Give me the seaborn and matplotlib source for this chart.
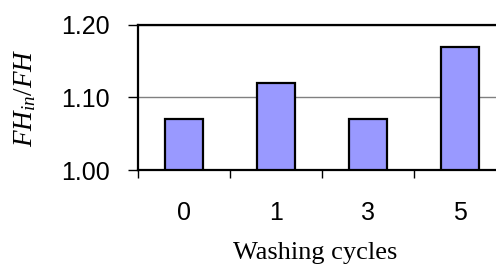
import matplotlib
matplotlib.use("Agg")
import matplotlib.pyplot as plt
import seaborn as sns
import pandas as pd
from matplotlib.ticker import FixedLocator

categories = ["0", "1", "3", "5"]
values = [1.07, 1.12, 1.07, 1.17]
yticks = [1.00, 1.10, 1.20]
ytick_labels = ["1.00", "1.10", "1.20"]

df = pd.DataFrame({"cycles": categories, "ratio": values})

sns.set_style("white")
plt.rcParams["mathtext.fontset"] = "custom"
plt.rcParams["mathtext.it"] = "Liberation Serif:italic"
plt.rcParams["mathtext.rm"] = "Liberation Serif"
plt.rcParams["text.color"] = "black"
plt.rcParams["axes.labelcolor"] = "black"
plt.rcParams["xtick.color"] = "black"
plt.rcParams["ytick.color"] = "black"

fig = plt.figure(figsize=(4.96, 2.64), dpi=100)
W, H = 496, 264
ax_l, ax_r, ax_t, ax_b = 138, 506, 25, 170
ax = fig.add_axes([ax_l / W, 1 - ax_b / H, (ax_r - ax_l) / W, (ax_b - ax_t) / H])

sns.barplot(data=df, x="cycles", y="ratio", order=categories, color="#9999FF",
            saturation=1, width=0.41, edgecolor="black", linewidth=1.6, ax=ax)

ax.set_ylim(1.0, 1.2)
ax.set_xlim(-0.5, len(categories) - 0.5)
ax.set_yticks(yticks)
ax.set_yticklabels(ytick_labels)
ax.yaxis.grid(True, color="#808080", linewidth=1.0)
ax.set_axisbelow(True)

for s in ax.spines.values():
    s.set_color("black")
    s.set_linewidth(1.6)
    s.set_visible(True)

ax.xaxis.set_minor_locator(FixedLocator([i - 0.5 for i in range(len(categories) + 1)]))
ax.tick_params(axis="x", which="major", length=0, pad=22, labelsize=18, labelfontfamily="Liberation Sans",
               labelcolor="black")
ax.tick_params(axis="x", which="minor", length=6, width=1.0, color="black", direction="out", bottom=True)
ax.tick_params(axis="y", which="major", length=7, width=1.0, color="black", direction="out", left=True,
               pad=13, labelsize=18, labelfontfamily="Liberation Sans", labelcolor="black")

ax.set_xlabel("Washing cycles", family="Liberation Serif", fontsize=19, color="black")
ax.xaxis.set_label_coords((315 - ax_l) / (ax_r - ax_l), -(242 - ax_b) / (ax_b - ax_t))
ax.xaxis.label.set_va("top")
ax.set_ylabel(r"$FH_{in}/FH$", fontsize=19.5, color="black")
ax.yaxis.set_label_coords((25 - ax_l) / (ax_r - ax_l), 1 - (98 - ax_t) / (ax_b - ax_t))
ax.yaxis.label.set_va("center")
ax.yaxis.label.set_ha("center")

fig.savefig("out.png", dpi=100)
